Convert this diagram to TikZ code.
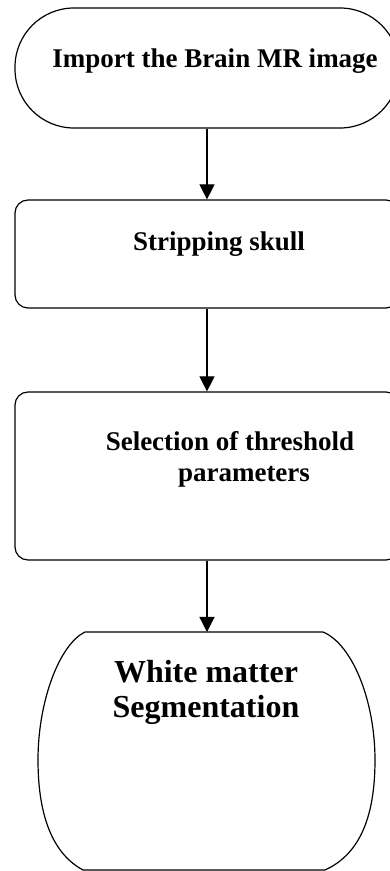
\documentclass[tikz,border=0pt]{standalone}
\usepackage{fontspec}
\setmainfont{Liberation Serif}
\usepackage{tikz}
\usetikzlibrary{arrows.meta, positioning, calc}

\tikzset{
  box/.style={draw, line width=1.2pt, rounded corners=13pt, minimum width=384pt},
  flowtxt/.style={font=\bfseries\fontsize{27}{31}\selectfont, anchor=base, align=center, inner sep=0pt},
  bigtxt/.style={font=\bfseries\fontsize{32}{35}\selectfont, anchor=base, align=center, inner sep=0pt},
  flow/.style={line width=1.2pt, -{Triangle[length=15pt, width=15pt]}}
}

\begin{document}
\begin{tikzpicture}[x=1pt, y=1pt]
  \clip (0,0) rectangle (390,871);
  \fill[white] (0,0) rectangle (390,871);

  % boxes
  \node[box, rounded corners=59pt, minimum height=120pt, inner sep=0pt] (import) at (207, 803) {};
  \node[box, minimum height=108pt, inner sep=0pt] (strip) at (207, 617) {};
  \node[box, minimum height=168pt, inner sep=0pt] (select) at (207, 395) {};
  \coordinate (segtop) at (207, 239);
  \draw[line width=1.2pt] (85,239) -- (323,239)
    .. controls (352,227) and (375,171) .. (375,111)
    .. controls (375,51) and (358,16) .. (325,1)
    -- (83,1)
    .. controls (55,16) and (38,51) .. (38,111)
    .. controls (38,171) and (60,227) .. (85,239);

  % texts (base = last line)
  \node[flowtxt] (importtxt) at (215, 803) {Import the Brain MR image};
  \node[flowtxt] (striptxt) at (219, 620) {Stripping skull};
  \node[flowtxt] (selecttxt) at (230, 389) {Selection of threshold\\\hspace*{28pt}parameters};
  \node[bigtxt] (segtxt) at (206, 153) {White matter\\Segmentation};

  % arrows
  \draw[flow] (import.south) -- (strip.north);
  \draw[flow] (strip.south) -- (select.north);
  \draw[flow] (select.south) -- (segtop);
\end{tikzpicture}
\end{document}
